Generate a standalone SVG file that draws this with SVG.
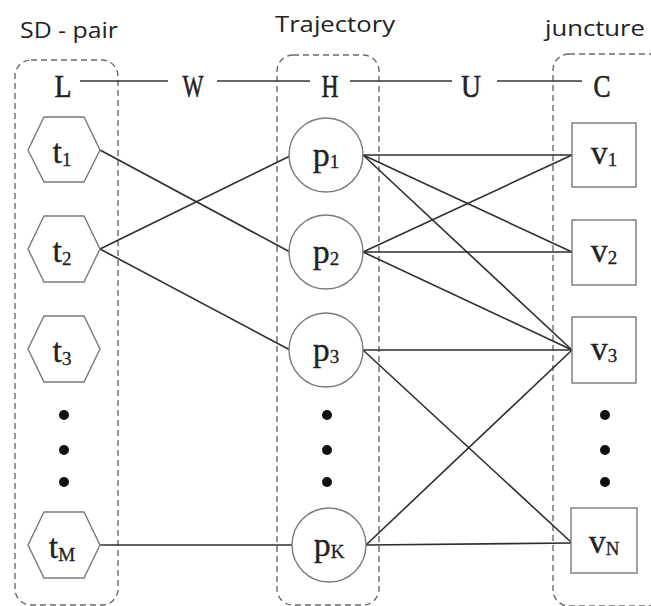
<svg xmlns="http://www.w3.org/2000/svg" width="651" height="606" viewBox="0 0 651 606">
<style>
.bg{fill:#ffffff}
.grp{fill:none;stroke:#6a6a6a;stroke-width:1.4;stroke-dasharray:6 4}
.title{font-family:"Open Sans","Liberation Sans",sans-serif;font-size:22px;fill:#222}
.hdr{font-family:"Liberation Serif",serif;font-size:32px;fill:#222;stroke:#222;stroke-width:0.6;text-anchor:middle}
.hline{stroke:#333;stroke-width:1.6}
.node{fill:#fff;stroke:#7a7a7a;stroke-width:1.4}
.lbl{font-family:"Liberation Serif",serif;font-size:34px;fill:#222;stroke:#222;stroke-width:0.3;text-anchor:middle}
.sub{font-size:19px}
.edge{stroke:#2e2e2e;stroke-width:1.6;fill:none}
.dot{fill:#111}
</style>
<rect class="bg" x="0" y="0" width="651" height="606"/>
<g id="groups">
<rect class="grp" x="15" y="60" width="103" height="545" rx="16"/>
<rect class="grp" x="277" y="55" width="102" height="550" rx="16"/>
<rect class="grp" x="553" y="54" width="115" height="552" rx="16"/>
</g>
<g id="titles">
<text class="title" x="20" y="38" textLength="98" lengthAdjust="spacingAndGlyphs">SD - pair</text>
<text class="title" x="275" y="32" textLength="120" lengthAdjust="spacingAndGlyphs">Trajectory</text>
<text class="title" x="545" y="36" textLength="100" lengthAdjust="spacingAndGlyphs">juncture</text>
</g>
<g id="header">
<line class="hline" x1="80" y1="81" x2="168" y2="81"/>
<line class="hline" x1="217" y1="81" x2="310" y2="81"/>
<line class="hline" x1="350" y1="81" x2="452" y2="81"/>
<line class="hline" x1="497" y1="81" x2="582" y2="81"/>
<text id="L" class="hdr" x="63" y="97" textLength="17" lengthAdjust="spacingAndGlyphs">L</text>
<text id="W" class="hdr" x="193" y="97" textLength="21" lengthAdjust="spacingAndGlyphs">W</text>
<text id="H" class="hdr" x="330" y="97" textLength="17" lengthAdjust="spacingAndGlyphs">H</text>
<text id="U" class="hdr" x="471" y="97" textLength="20" lengthAdjust="spacingAndGlyphs">U</text>
<text id="C" class="hdr" x="602" y="97" textLength="17" lengthAdjust="spacingAndGlyphs">C</text>
</g>
<g id="connectors">
<line class="edge" x1="100" y1="150" x2="290" y2="252"/>
<line class="edge" x1="100" y1="249" x2="290" y2="156"/>
<line class="edge" x1="100" y1="249" x2="290" y2="350"/>
<line class="edge" x1="100" y1="545" x2="292" y2="545"/>
<line class="edge" x1="363" y1="155" x2="572" y2="155"/>
<line class="edge" x1="363" y1="155" x2="572" y2="252"/>
<line class="edge" x1="363" y1="155" x2="572" y2="350"/>
<line class="edge" x1="363" y1="252" x2="572" y2="155"/>
<line class="edge" x1="363" y1="252" x2="572" y2="252"/>
<line class="edge" x1="363" y1="252" x2="572" y2="350"/>
<line class="edge" x1="363" y1="350" x2="572" y2="350"/>
<line class="edge" x1="363" y1="350" x2="572" y2="543"/>
<line class="edge" x1="366" y1="545" x2="572" y2="350"/>
<line class="edge" x1="366" y1="545" x2="572" y2="543"/>
</g>
<g id="t1"><polygon class="node" points="28,150 44,117 84,117 100,150 84,182 44,182"/><text class="lbl" x="62" y="163">t<tspan class="sub" dy="3">1</tspan></text></g>
<g id="t2"><polygon class="node" points="28,249 44,216 84,216 100,249 84,282 44,282"/><text class="lbl" x="62" y="262">t<tspan class="sub" dy="3">2</tspan></text></g>
<g id="t3"><polygon class="node" points="28,349 44,316 84,316 100,349 84,382 44,382"/><text class="lbl" x="62" y="362">t<tspan class="sub" dy="3">3</tspan></text></g>
<g id="tM"><polygon class="node" points="28,545 44,512 84,512 100,545 84,578 44,578"/><text class="lbl" x="62" y="558">t<tspan class="sub" dy="3">M</tspan></text></g>
<g id="t-dots"><circle class="dot" cx="64" cy="415" r="5"/><circle class="dot" cx="64" cy="450" r="5"/><circle class="dot" cx="64" cy="482" r="5"/></g>
<g id="p1"><circle class="node" cx="326" cy="155" r="37"/><text class="lbl" x="326" y="166">p<tspan class="sub" dy="2">1</tspan></text></g>
<g id="p2"><circle class="node" cx="326" cy="252" r="37"/><text class="lbl" x="326" y="263">p<tspan class="sub" dy="2">2</tspan></text></g>
<g id="p3"><circle class="node" cx="326" cy="350" r="37"/><text class="lbl" x="326" y="361">p<tspan class="sub" dy="2">3</tspan></text></g>
<g id="pK"><circle class="node" cx="329" cy="545" r="37"/><text class="lbl" x="329" y="556">p<tspan class="sub" dy="2">K</tspan></text></g>
<g id="p-dots"><circle class="dot" cx="327" cy="415" r="5"/><circle class="dot" cx="327" cy="450" r="5"/><circle class="dot" cx="327" cy="482" r="5"/></g>
<g id="v1"><rect class="node" x="572" y="123" width="64" height="64"/><text class="lbl" x="604" y="164">v<tspan class="sub" dy="2">1</tspan></text></g>
<g id="v2"><rect class="node" x="572" y="220" width="64" height="65"/><text class="lbl" x="604" y="262">v<tspan class="sub" dy="2">2</tspan></text></g>
<g id="v3"><rect class="node" x="572" y="317" width="64" height="66"/><text class="lbl" x="604" y="360">v<tspan class="sub" dy="2">3</tspan></text></g>
<g id="vN"><rect class="node" x="571" y="508" width="66" height="65"/><text class="lbl" x="604" y="553">v<tspan class="sub" dy="2">N</tspan></text></g>
<g id="v-dots"><circle class="dot" cx="605" cy="415" r="5"/><circle class="dot" cx="605" cy="450" r="5"/><circle class="dot" cx="605" cy="482" r="5"/></g>
</svg>
